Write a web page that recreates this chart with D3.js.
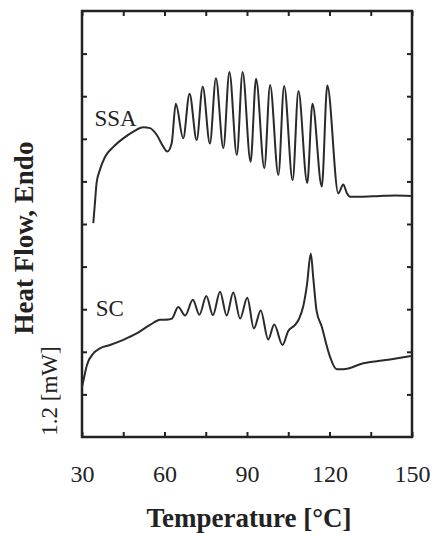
<!DOCTYPE html>
<html><head><meta charset="utf-8">
<script src="https://cdn.jsdelivr.net/npm/d3@7"></script>
<style>html,body{margin:0;padding:0;background:#fff;}svg{display:block;}</style>
</head><body>
<script>
// Data (temperature in °C, heat-flow in tick units)
const ssaT = [34.1,34.7,35.3,36.5,38.4,41.4,45.0,48.7,52.3,54.7,57.2,59.6,61.0,62.6,
  64.1,66.8,69.1,71.7,73.9,76.5,78.7,81.4,83.6,86.3,88.4,91.3,93.3,96.3,98.4,101.4,
  103.5,106.6,108.7,111.9,113.8,117.2,119.2,123.2,125.0,126.3,127.5,131.1,138.4,143.8,149.6];
const ssaV = [5.02,5.49,5.96,6.27,6.58,6.81,7.01,7.17,7.27,7.25,7.09,6.81,6.70,6.89,
  7.82,7.01,8.06,6.97,8.22,6.89,8.42,6.78,8.57,6.62,8.57,6.46,8.41,6.31,8.26,6.15,
  8.24,6.03,8.12,5.96,7.82,5.88,8.25,5.72,5.93,5.73,5.64,5.64,5.66,5.67,5.66];
const scT = [30.0,30.7,31.8,34.1,36.5,40.2,45.0,49.9,54.7,58.4,61.4,62.7,
  65.0,67.5,70.3,72.7,75.2,77.6,80.2,82.6,85.0,87.5,90.1,92.5,95.0,97.7,99.9,102.9,
  105.0,107.5,108.9,110.5,111.8,113.2,114.1,115.3,117.2,118.7,120.2,122.6,125.0,132.3,142.0,149.6];
const scV = [1.17,1.38,1.69,1.96,2.08,2.16,2.28,2.43,2.63,2.75,2.76,2.78,
  3.05,2.85,3.22,2.87,3.31,2.86,3.41,2.85,3.39,2.78,3.27,2.55,2.97,2.29,2.64,2.16,
  2.49,2.63,2.77,3.08,3.57,4.31,3.73,2.96,2.59,2.21,1.88,1.59,1.59,1.73,1.82,1.90];
const xTicks = [30,45,60,75,90,105,120,135,150];
const xLabels = [30,60,90,120,150];
const yTicks = [1,2,3,4,5,6,7,8,9];
const seriesLabels = ["SSA","SC"];
const xTitle = "Temperature [°C]";
const yTitle = "Heat Flow, Endo";
const yScaleNote = "1.2 [mW]";

const W = 435, H = 533;
const m = {left: 82, right: 412, top: 11, bottom: 437};
const svg = d3.select("body").append("svg").attr("width", W).attr("height", H);
const x = d3.scaleLinear().domain([30,150]).range([m.left, m.right]);
const y = d3.scaleLinear().domain([0,10]).range([m.bottom, m.top]);
const ink = "#222";
const serif = "'Liberation Serif','Times New Roman',serif";

function styleAxis(g){
  g.select(".domain").remove();
  g.selectAll(".tick line").attr("stroke", ink).attr("stroke-width", 2);
}
svg.append("g").attr("transform",`translate(0,${m.bottom})`)
  .call(d3.axisBottom(x).tickValues(xTicks).tickSize(-5).tickPadding(28)
    .tickFormat(d => xLabels.includes(d) ? d : ""))
  .call(styleAxis)
  .call(g => g.selectAll("text").attr("font-family", serif).attr("font-size", 24).attr("fill", ink));
svg.append("g").attr("transform",`translate(0,${m.top})`)
  .call(d3.axisTop(x).tickValues(xTicks).tickSize(-5).tickFormat(""))
  .call(styleAxis);
svg.append("g").attr("transform",`translate(${m.left},0)`)
  .call(d3.axisLeft(y).tickValues(yTicks).tickSize(-5).tickFormat(""))
  .call(styleAxis);
svg.append("g").attr("transform",`translate(${m.right},0)`)
  .call(d3.axisRight(y).tickValues(yTicks).tickSize(-5).tickFormat(""))
  .call(styleAxis);
svg.append("rect").attr("x", m.left).attr("y", m.top)
  .attr("width", m.right - m.left).attr("height", m.bottom - m.top)
  .attr("fill","none").attr("stroke", ink).attr("stroke-width", 2.5);

const line = d3.line().x(d => x(d[0])).y(d => y(d[1])).curve(d3.curveMonotoneX);
[[ssaT, ssaV],[scT, scV]].forEach(([T,V]) => {
  svg.append("path").datum(T.map((t,i)=>[t,V[i]]))
    .attr("d", line).attr("fill","none").attr("stroke","#2a2a2a")
    .attr("stroke-width",2).attr("stroke-linejoin","round");
});

svg.append("text").attr("x", x(34.5)).attr("y", y(7.3)).text(seriesLabels[0])
  .attr("font-family", serif).attr("font-size", 23).attr("fill", ink);
svg.append("text").attr("x", x(35.0)).attr("y", y(2.83)).text(seriesLabels[1])
  .attr("font-family", serif).attr("font-size", 23).attr("fill", ink);

svg.append("text").attr("x", 249).attr("y", 527).attr("text-anchor","middle")
  .attr("font-family", serif).attr("font-weight","bold").attr("font-size", 27)
  .attr("fill", ink).text(xTitle);
svg.append("text").attr("transform","translate(33,238) rotate(-90)").attr("text-anchor","middle")
  .attr("font-family", serif).attr("font-weight","bold").attr("font-size", 27)
  .attr("fill", ink).text(yTitle);
svg.append("text").attr("transform","translate(57,391) rotate(-90)").attr("text-anchor","middle")
  .attr("font-family", serif).attr("font-size", 23)
  .attr("fill", ink).text(yScaleNote);
</script>
</body></html>
